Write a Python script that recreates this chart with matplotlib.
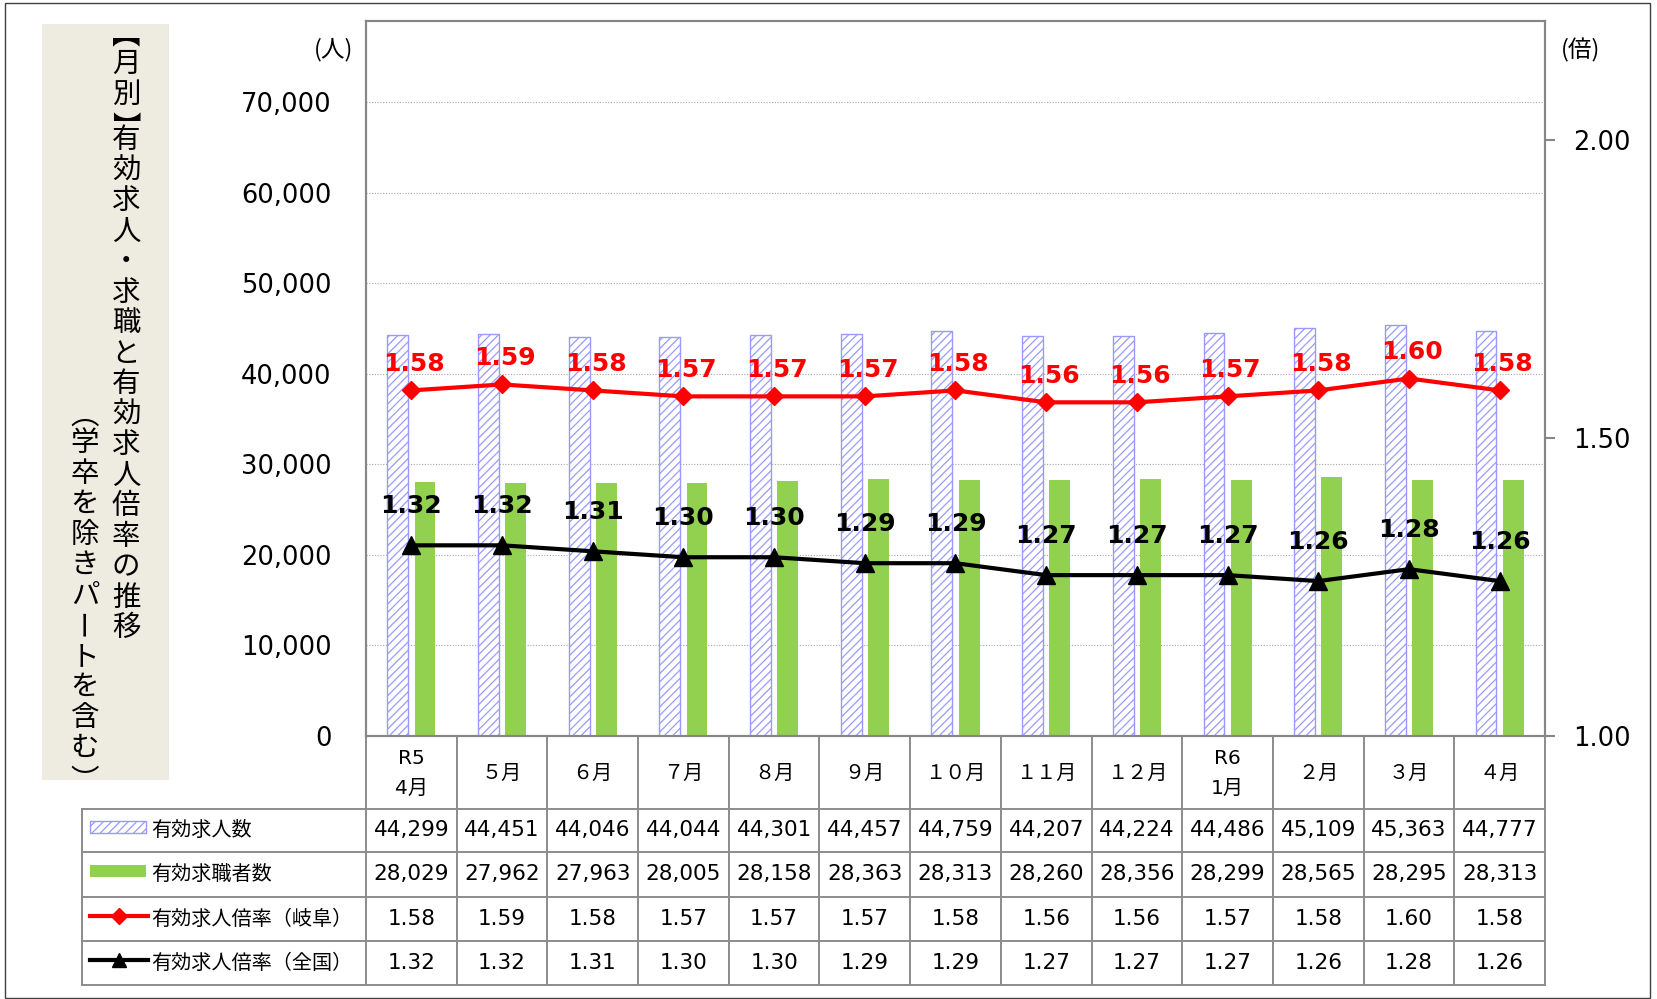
import matplotlib
matplotlib.use('Agg')
import matplotlib.pyplot as plt
from matplotlib import transforms
from matplotlib.patches import Rectangle
from matplotlib.lines import Line2D

plt.rcParams['font.family'] = ['DejaVu Sans', 'Noto Sans CJK JP']
plt.rcParams['hatch.linewidth'] = 0.9

# ---------------- data ----------------
months = ['R5\n4月', '５月', '６月', '７月', '８月', '９月', '１０月', '１１月', '１２月',
          'R6\n1月', '２月', '３月', '４月']
openings = [44299, 44451, 44046, 44044, 44301, 44457, 44759, 44207, 44224, 44486, 45109, 45363, 44777]
seekers = [28029, 27962, 27963, 28005, 28158, 28363, 28313, 28260, 28356, 28299, 28565, 28295, 28313]
ratio_gifu = [1.58, 1.59, 1.58, 1.57, 1.57, 1.57, 1.58, 1.56, 1.56, 1.57, 1.58, 1.60, 1.58]
ratio_japan = [1.32, 1.32, 1.31, 1.30, 1.30, 1.29, 1.29, 1.27, 1.27, 1.27, 1.26, 1.28, 1.26]
series_names = ['有効求人数', '有効求職者数', '有効求人倍率（岐阜）', '有効求人倍率（全国）']
left_ticks = [0, 10000, 20000, 30000, 40000, 50000, 60000, 70000]
right_ticks = [1.0, 1.5, 2.0]
title_main = '【月別】有効求人・求職と有効求人倍率の推移'
title_sub = '（学卒を除きパートを含む）'

# ---------------- styles ----------------
W, H = 1658, 999
HATCH_C = '#9999FF'
GREEN = '#92D050'
RED = '#FF0000'
GRID_C = '#8C8C8C'
SPINE_C = '#868686'

fig = plt.figure(figsize=(W / 100, H / 100), dpi=100)
fig.patch.set_facecolor('white')

# overlay in pixel coordinates (y downward)
ov = fig.add_axes([0, 0, 1, 1])
ov.set_xlim(0, W)
ov.set_ylim(H, 0)
ov.axis('off')

PL, PR, PT, PB = 366, 1545, 21, 736
ax = fig.add_axes([PL / W, 1 - PB / H, (PR - PL) / W, (PB - PT) / H])
ax.set_facecolor('none')
n = len(months)
x = list(range(n))
bw = 0.23
ax.bar([i - 0.15 for i in x], openings, width=bw, facecolor='white', edgecolor=HATCH_C,
       hatch='////', linewidth=1.0, zorder=2)
ax.bar([i + 0.15 for i in x], seekers, width=bw, color=GREEN, linewidth=0, zorder=2)
ax.set_xlim(-0.5, n - 0.5)
ax.set_ylim(0, 79000)
ax.set_xticks([])
ax.set_yticks(left_ticks)
ax.set_yticklabels([f'{v:,}' for v in left_ticks])
ax.tick_params(axis='y', length=0, pad=25, labelsize=18.5)
ax.yaxis.grid(True, linestyle=(0, (1, 1.5)), color='#A6A6A6', linewidth=0.8, zorder=0)
ax.set_axisbelow(True)
for s in ax.spines.values():
    s.set_color(SPINE_C)
    s.set_linewidth(1.5)

ax2 = ax.twinx()
ax2.set_ylim(1.0, 2.2)
ax2.set_yticks(right_ticks)
ax2.set_yticklabels([f'{v:.2f}' for v in right_ticks])
ax2.tick_params(axis='y', length=7, width=1.5, color=SPINE_C, pad=13, labelsize=18.5)
for s in ax2.spines.values():
    s.set_color(SPINE_C)
    s.set_linewidth(1.5)

ax2.plot(x, ratio_gifu, color=RED, linewidth=3, marker='D', markersize=9, zorder=4)
ax2.plot(x, ratio_japan, color='black', linewidth=3, marker='^', markersize=12.5, zorder=4)
for i, v in enumerate(ratio_gifu):
    ax2.annotate(f'{v:.2f}', (i, v), xytext=(2, 19), textcoords='offset points',
                 ha='center', va='center', color=RED, fontweight='bold', fontsize=18, zorder=5)
for i, v in enumerate(ratio_japan):
    ax2.annotate(f'{v:.2f}', (i, v), xytext=(0, 28), textcoords='offset points',
                 ha='center', va='center', color='black', fontweight='bold', fontsize=18, zorder=5)

# axis unit labels
ov.text(334, 50, '(人)', ha='center', va='center', fontsize=17, family='Noto Sans CJK JP')
ov.text(1581, 50, '(倍)', ha='center', va='center', fontsize=17, family='Noto Sans CJK JP')

# ---------------- title box (vertical text) ----------------
ov.add_patch(Rectangle((42, 24), 127, 756, facecolor='#EEECE1', edgecolor='none', zorder=0))

VERT = {'【': '\ufe3b', '】': '\ufe3c', '（': '\ufe35', '）': '\ufe36'}
FS_T = 20.5
EM = FS_T * 100 / 72


def vtext(cx, y0, s, adv, badv):
    y = y0
    for ch in s:
        if ch in '【（':
            yc = y + badv / 2 - 0.21 * EM
            ov.text(cx, yc, VERT[ch], ha='center', va='center', fontsize=FS_T,
                    family='Noto Sans CJK JP', zorder=3)
            y += badv
        elif ch in '】）':
            yc = y + badv / 2 + 0.40 * EM
            ov.text(cx, yc, VERT[ch], ha='center', va='center', fontsize=FS_T,
                    family='Noto Sans CJK JP', zorder=3)
            y += badv
        elif ch == 'ー':
            ov.text(cx - 0.21 * EM, y + adv / 2, ch, rotation=-90, ha='center', va='center',
                    fontsize=FS_T, family='Noto Sans CJK JP', zorder=3)
            y += adv
        else:
            ov.text(cx, y + adv / 2, ch, ha='center', va='center', fontsize=FS_T,
                    family='Noto Sans CJK JP', zorder=3)
            y += adv


vtext(126, 34, title_main, 30.5, 15)
vtext(85, 416, title_sub, 30.5, 12)

# ---------------- data table ----------------
rows = [736, 809, 852, 897, 941, 985]
LEG_L = 82
tr = transforms.blended_transform_factory(ax.transData, ov.transData)
lw_t = 1.4
ov.plot([PL, PR], [rows[0], rows[0]], color=GRID_C, lw=lw_t, zorder=3)
for r in rows[1:]:
    ov.plot([LEG_L, PR], [r, r], color=GRID_C, lw=lw_t, zorder=3)
for i in range(n + 1):
    ov.plot([i - 0.5, i - 0.5], [rows[0], rows[-1]], color=GRID_C, lw=lw_t, transform=tr, zorder=3)
ov.plot([LEG_L, LEG_L], [rows[1], rows[-1]], color=GRID_C, lw=lw_t, zorder=3)

fs_t = 14.5
for i, m in enumerate(months):
    ov.text(i, (rows[0] + rows[1]) / 2 + 1, m, transform=tr, ha='center', va='center',
            fontsize=fs_t, linespacing=1.75)
table_rows = [[f'{v:,}' for v in openings], [f'{v:,}' for v in seekers],
              [f'{v:.2f}' for v in ratio_gifu], [f'{v:.2f}' for v in ratio_japan]]
for r, vals in enumerate(table_rows):
    yc = (rows[r + 1] + rows[r + 2]) / 2
    for i, t in enumerate(vals):
        ov.text(i, yc, t, transform=tr, ha='center', va='center', fontsize=15.5)
    ov.text(151, yc, series_names[r], ha='left', va='center', fontsize=fs_t)

# legend keys
y1 = (rows[1] + rows[2]) / 2 - 4
ov.add_patch(Rectangle((90, y1 - 6), 56, 12, facecolor='white', edgecolor=HATCH_C,
                       hatch='////', linewidth=1.0, zorder=3))
y2 = (rows[2] + rows[3]) / 2 - 4
ov.add_patch(Rectangle((90, y2 - 6), 56, 12, facecolor=GREEN, edgecolor='none', zorder=3))
y3 = (rows[3] + rows[4]) / 2 - 3
ov.add_line(Line2D([90, 148], [y3, y3], color=RED, lw=3, zorder=3))
ov.add_line(Line2D([119], [y3], color=RED, marker='D', markersize=8, lw=0, zorder=3))
y4 = (rows[4] + rows[5]) / 2 - 3
ov.add_line(Line2D([90, 148], [y4, y4], color='black', lw=3, zorder=3))
ov.add_line(Line2D([119], [y4], color='black', marker='^', markersize=10, lw=0, zorder=3))

# outer frame
ov.add_patch(Rectangle((5, 3), 1645, 995, facecolor='none', edgecolor='#404040', lw=1.0, zorder=1))

fig.savefig('out.png', dpi=100)
